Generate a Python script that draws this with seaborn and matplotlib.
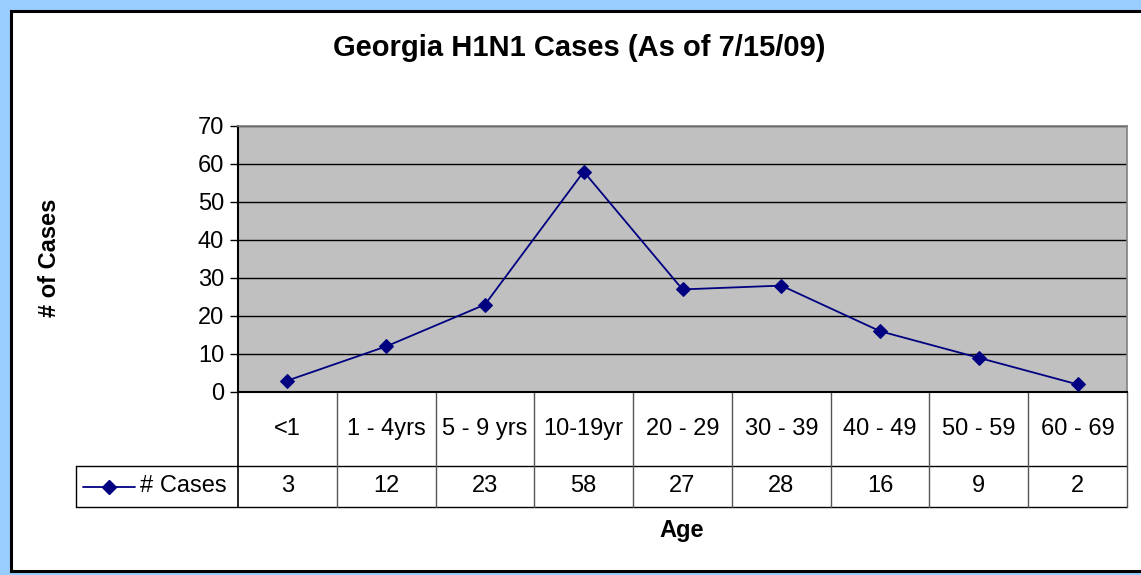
import seaborn as sns
import pandas as pd, numpy as np
import matplotlib.pyplot as plt
from matplotlib.patches import Rectangle

# data
ages = ["<1", "1 - 4yrs", "5 - 9 yrs", "10-19yr", "20 - 29", "30 - 39", "40 - 49", "50 - 59", "60 - 69"]
cases = [3, 12, 23, 58, 27, 28, 16, 9, 2]
yticks = [0, 10, 20, 30, 40, 50, 60, 70]

df = pd.DataFrame({"age": ages, "cases": cases, "pos": range(len(ages))})

sns.set_style("white")
plt.rcParams["font.family"] = ["Liberation Sans", "DejaVu Sans"]
plt.rcParams["text.color"] = "black"
plt.rcParams["ytick.color"] = "black"
plt.rcParams["ytick.labelcolor"] = "black"

FS = 17
W, H = 1141, 575
fig = plt.figure(figsize=(W / 100, H / 100), dpi=100)
fig.patch.set_facecolor("#99CCFF")
# white chart area with black border (cropped on the right)
fig.patches.append(Rectangle((11 / W, 1 - 571 / H), (W + 20) / W, (571 - 11) / H,
                             transform=fig.transFigure, facecolor="white",
                             edgecolor="black", linewidth=2.2, zorder=-5))

ax = fig.add_axes([238 / W, 1 - 392 / H, (1127 - 238) / W, (392 - 126) / H])
ax.set_zorder(2)
ax.set_facecolor("#C0C0C0")
sns.lineplot(data=df, x="pos", y="cases", ax=ax, color="#000080", marker="D",
             markersize=7, markeredgecolor="#000080", linewidth=1.3, zorder=3)
ax.set_xlim(-0.5, len(ages) - 0.5)
ax.set_ylim(0, 70)
ax.set_yticks(yticks)
ax.yaxis.grid(True, color="black", linewidth=1)
ax.set_axisbelow(True)
ax.tick_params(axis="y", left=True, length=6, width=1, color="black",
               labelsize=FS, pad=4)
ax.set_xticks([])
ax.set_xlabel("")
ax.set_ylabel("")
for s in ["top", "right"]:
    ax.spines[s].set_color("#808080")
    ax.spines[s].set_linewidth(1.2)
for s in ["left", "bottom"]:
    ax.spines[s].set_color("black")
    ax.spines[s].set_linewidth(1.5)

# data table under the plot (axes fraction coordinates)
n = len(ages)
r1 = -(466 - 392) / 266
r2 = -(507 - 392) / 266
leg_x = (76 - 238) / 889
kw = dict(transform=ax.transAxes, clip_on=False)
ax.plot([leg_x, 1], [r1, r1], color="black", lw=1, **kw)
ax.plot([leg_x, 1], [r2, r2], color="black", lw=1, **kw)
ax.plot([leg_x, leg_x], [r1, r2], color="black", lw=1, **kw)
ax.plot([0, 0], [0, r2], color="black", lw=1.2, **kw)
for k in range(1, n + 1):
    ax.plot([k / n, k / n], [0, r2], color="#555555", lw=1, **kw)
for k, (a, c) in enumerate(zip(ages, cases)):
    xc = (k + 0.5) / n
    ax.text(xc, r1 / 2, a, ha="center", va="center", fontsize=FS, transform=ax.transAxes)
    ax.text(xc, (r1 + r2) / 2, str(c), ha="center", va="center", fontsize=FS, transform=ax.transAxes)

# legend key in the table
ym = (r1 + r2) / 2
lx0 = (83 - 238) / 889
lx1 = (135 - 238) / 889
ax.plot([lx0, lx1], [ym, ym], color="#000080", lw=1.3, **kw)
ax.plot([(lx0 + lx1) / 2], [ym], marker="D", markersize=7, color="#000080", **kw)
ax.text((140 - 238) / 889, ym, "# Cases", ha="left", va="center", fontsize=FS,
        transform=ax.transAxes)

fig.text(579 / W, 1 - 48 / H, "Georgia H1N1 Cases (As of 7/15/09)", ha="center",
         va="center", fontsize=21, fontweight="bold")
fig.text(50 / W, 1 - 258 / H, "# of Cases", rotation=90, ha="center", va="center",
         fontsize=17, fontweight="bold")
fig.text(682 / W, 1 - 530 / H, "Age", ha="center", va="center", fontsize=17,
         fontweight="bold")

fig.savefig("out.png", dpi=100, facecolor=fig.get_facecolor())
